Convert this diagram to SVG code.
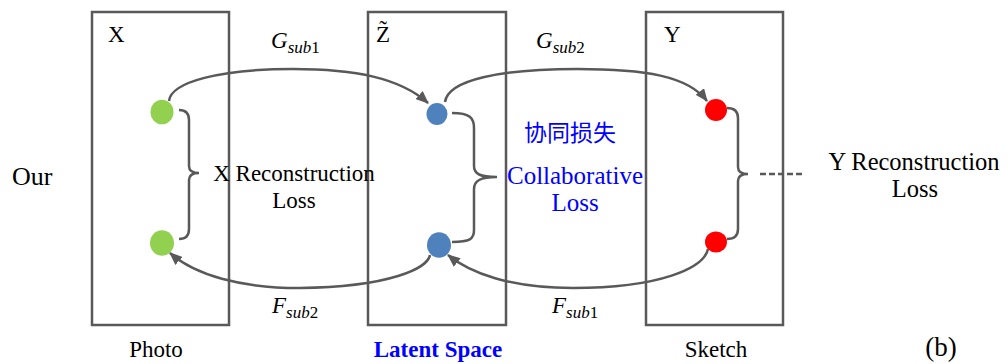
<svg xmlns="http://www.w3.org/2000/svg" width="1008" height="364" viewBox="0 0 1008 364">
<defs>
<style>
.box{fill:none;stroke:#595959;stroke-width:2.5}
.ln{fill:none;stroke:#595959;stroke-width:2.5}
.t{font-family:"Liberation Serif","Times New Roman",serif;fill:#000}
.m{font-family:"Liberation Serif","Times New Roman",serif;font-style:italic;fill:#000}
.blue{fill:#0000ff}
</style>
<marker id="ah" viewBox="0 0 12 10" refX="11" refY="5" markerWidth="13" markerHeight="11" markerUnits="userSpaceOnUse" orient="auto">
<path d="M0,0 L12,5 L0,10 Z" fill="#595959"/>
</marker>
</defs>
<rect width="1008" height="364" fill="#fff"/>

<g id="box-photo">
<rect class="box" x="92" y="12" width="137" height="313"/>
<text class="t" x="108" y="42" font-size="23">X</text>
<text class="t" x="156" y="357" font-size="23" text-anchor="middle">Photo</text>
</g>
<g id="box-latent">
<rect class="box" x="368" y="12" width="138" height="313"/>
<text class="t" x="376" y="42" font-size="23">Z&#771;</text>
<text class="t blue" x="438" y="357" font-size="23" font-weight="bold" text-anchor="middle">Latent Space</text>
</g>
<g id="box-sketch">
<rect class="box" x="646" y="12" width="137" height="313"/>
<text class="t" x="664" y="42" font-size="23">Y</text>
<text class="t" x="716" y="357" font-size="23" text-anchor="middle">Sketch</text>
</g>

<g id="connectors">
<path class="ln" d="M169,101 C171,82 220,69 293,69 C355,69 400,78 428,103" marker-end="url(#ah)"/>
<path class="ln" d="M445,102 C448,80 500,69 577,69 C645,69 688,76 707,101" marker-end="url(#ah)"/>
<path class="ln" d="M430,255 C428,268 390,287 300,288 C240,288 195,275 170,253" marker-end="url(#ah)"/>
<path class="ln" d="M708,249 C704,268 660,288 573,288 C510,288 470,273 448,255" marker-end="url(#ah)"/>
<path class="ln" d="M179,110 Q189,110 189,120 L189,166 Q189,173 199,173 Q189,173 189,180 L189,229 Q189,239 179,239"/>
<path class="ln" d="M452,113 C470,113 474,118 474,128 L474,166 C474,174 480,177 497,177 C480,177 474,181 474,189 L474,230 C474,239 470,242 452,242"/>
<path class="ln" d="M727,108 Q738,108 738,118 L738,167 Q738,174 748,174 Q738,174 738,181 L738,229 Q738,239 727,239"/>
<path class="ln" d="M760,174 L805,174" stroke-dasharray="6 3"/>
</g>

<g id="node-x1"><ellipse cx="162" cy="112" rx="11.5" ry="12.3" fill="#92d050"/></g>
<g id="node-x2"><ellipse cx="162" cy="243" rx="12" ry="12.8" fill="#92d050"/></g>
<g id="node-z1"><ellipse cx="437" cy="114" rx="10.5" ry="11" fill="#4f81bd"/></g>
<g id="node-z2"><ellipse cx="439" cy="245" rx="12" ry="12.8" fill="#4f81bd"/></g>
<g id="node-y1"><ellipse cx="716" cy="110" rx="11" ry="11" fill="#ff0000"/></g>
<g id="node-y2"><ellipse cx="716" cy="242" rx="11" ry="10.5" fill="#ff0000"/></g>

<g id="labels">
<text class="m" x="271" y="48" font-size="23">G<tspan font-size="17" dy="5">sub</tspan><tspan font-size="17" font-style="normal">1</tspan></text>
<text class="m" x="536" y="48" font-size="23">G<tspan font-size="17" dy="5">sub</tspan><tspan font-size="17" font-style="normal">2</tspan></text>
<text class="m" x="272" y="313" font-size="23">F<tspan font-size="17" dy="5">sub</tspan><tspan font-size="17" font-style="normal">2</tspan></text>
<text class="m" x="552" y="313" font-size="23">F<tspan font-size="17" dy="5">sub</tspan><tspan font-size="17" font-style="normal">1</tspan></text>
<text class="t" x="294" y="181" font-size="23" text-anchor="middle">X Reconstruction</text>
<text class="t" x="294" y="208" font-size="23" text-anchor="middle">Loss</text>
<text class="blue" x="570" y="141" font-size="23" font-family="'Noto Sans CJK SC',sans-serif" text-anchor="middle">协同损失</text>
<text class="t blue" x="575" y="184" font-size="25" text-anchor="middle">Collaborative</text>
<text class="t blue" x="575" y="211" font-size="25" text-anchor="middle">Loss</text>
<text class="t" x="914" y="170" font-size="24.5" text-anchor="middle">Y Reconstruction</text>
<text class="t" x="915" y="197" font-size="24.5" text-anchor="middle">Loss</text>
<text class="t" x="12" y="185" font-size="26">Our</text>
<text class="t" x="941" y="356" font-size="27" text-anchor="middle">(b)</text>
</g>
</svg>
